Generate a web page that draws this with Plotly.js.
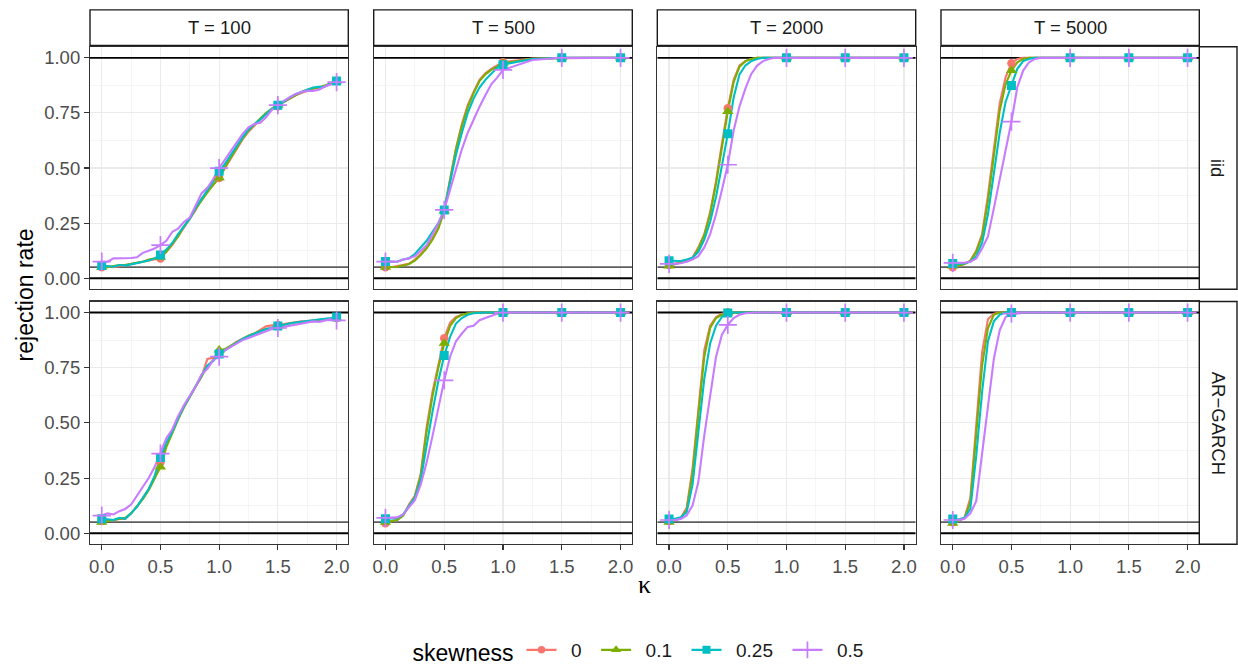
<!DOCTYPE html>
<html><head><meta charset="utf-8">
<script src="https://cdn.plot.ly/plotly-3.0.1.min.js"></script>
<style>html,body{margin:0;padding:0;background:#fff}#chart{width:1238px;height:671px}</style>
</head><body><div id="chart"></div>
<script>
// ---------------- data ----------------
const kappaFine = [0,0.05,0.1,0.15,0.2,0.25,0.3,0.35,0.4,0.45,0.5,0.55,0.6,0.65,0.7,0.75,0.8,0.85,0.9,0.95,1,1.05,1.1,1.15,1.2,1.25,1.3,1.35,1.4,1.45,1.5,1.55,1.6,1.65,1.7,1.75,1.8,1.85,1.9,1.95,2];
const kappaCoarse = [0,0.05,0.1,0.15,0.2,0.25,0.3,0.35,0.4,0.45,0.5,0.55,0.6,0.65,0.7,0.75,0.8,0.85,0.9,0.95,1,1.25,1.5,1.75,2];
const markerKappa = [0,0.5,1,1.5,2];
const skewLevels = ['0','0.1','0.25','0.5'];
const sampleSizes = ['T = 100','T = 500','T = 2000','T = 5000'];
const models = ['iid','AR\u2212GARCH'];
const xRange = [-0.1, 2.1];
const yRange = [-0.05, 1.05];
const xTickVals = [0,0.5,1,1.5,2];
const xTickText = ['0.0','0.5','1.0','1.5','2.0'];
const yTickVals = [0,0.25,0.5,0.75,1];
const yTickText = ['0.00','0.25','0.50','0.75','1.00'];
const boundLines = [0,1];
const nominalLevel = [0.05];

// iid, T = 100
const iid100_s0 = [0.05,0.055,0.05,0.055,0.06,0.065,0.07,0.075,0.08,0.085,0.09,0.12,0.15,0.19,0.23,0.27,0.31,0.36,0.39,0.42,0.455,0.50,0.545,0.59,0.63,0.665,0.695,0.72,0.745,0.765,0.78,0.80,0.815,0.83,0.84,0.85,0.86,0.865,0.87,0.88,0.895];
const iid100_s1 = [0.05,0.05,0.055,0.06,0.06,0.065,0.07,0.075,0.085,0.09,0.095,0.12,0.155,0.19,0.235,0.27,0.315,0.355,0.39,0.425,0.455,0.505,0.55,0.595,0.635,0.67,0.70,0.725,0.75,0.77,0.785,0.80,0.815,0.83,0.845,0.855,0.86,0.865,0.875,0.885,0.895];
const iid100_s2 = [0.058,0.055,0.052,0.06,0.058,0.063,0.068,0.075,0.08,0.09,0.105,0.13,0.16,0.20,0.235,0.27,0.32,0.36,0.40,0.44,0.485,0.52,0.56,0.60,0.64,0.675,0.70,0.72,0.745,0.77,0.785,0.80,0.82,0.835,0.845,0.855,0.865,0.868,0.87,0.885,0.895];
const iid100_s3 = [0.075,0.075,0.09,0.09,0.09,0.092,0.095,0.115,0.125,0.135,0.15,0.17,0.21,0.225,0.255,0.275,0.33,0.385,0.41,0.45,0.50,0.54,0.575,0.615,0.655,0.685,0.70,0.705,0.73,0.765,0.785,0.805,0.82,0.835,0.845,0.85,0.85,0.855,0.87,0.88,0.89];
// iid, T = 500
const iid500_s0 = [0.05,0.05,0.055,0.06,0.065,0.085,0.11,0.14,0.18,0.23,0.31,0.45,0.59,0.70,0.785,0.845,0.90,0.93,0.95,0.965,0.98,0.997,1,1,1];
const iid500_s1 = [0.05,0.05,0.052,0.058,0.065,0.08,0.105,0.135,0.175,0.225,0.305,0.445,0.585,0.69,0.775,0.84,0.895,0.925,0.945,0.96,0.975,0.996,1,1,1];
const iid500_s2 = [0.076,0.075,0.075,0.085,0.09,0.11,0.14,0.17,0.21,0.25,0.31,0.43,0.56,0.66,0.75,0.815,0.865,0.90,0.93,0.955,0.969,0.995,1,1,1];
const iid500_s3 = [0.075,0.075,0.075,0.085,0.09,0.10,0.125,0.15,0.20,0.25,0.31,0.40,0.495,0.585,0.66,0.72,0.778,0.83,0.88,0.91,0.945,0.99,1,1,1];
// iid, T = 2000
const iid2000_s0 = [0.06,0.065,0.072,0.08,0.095,0.14,0.20,0.30,0.44,0.61,0.771,0.90,0.965,0.985,0.995,1,1,1,1,1,1,1,1,1,1];
const iid2000_s1 = [0.055,0.062,0.07,0.078,0.092,0.135,0.195,0.29,0.43,0.595,0.756,0.89,0.96,0.985,0.995,1,1,1,1,1,1,1,1,1,1];
const iid2000_s2 = [0.079,0.078,0.078,0.085,0.093,0.12,0.175,0.255,0.37,0.51,0.655,0.82,0.925,0.965,0.985,0.995,1,1,1,1,1,1,1,1,1];
const iid2000_s3 = [0.065,0.065,0.068,0.075,0.085,0.10,0.14,0.20,0.29,0.40,0.515,0.67,0.78,0.86,0.927,0.965,0.985,0.995,1,1,1,1,1,1,1];
// iid, T = 5000
const iid5000_s0 = [0.05,0.058,0.065,0.08,0.125,0.20,0.376,0.585,0.793,0.912,0.975,0.995,1,1,1,1,1,1,1,1,1,1,1,1,1];
const iid5000_s1 = [0.055,0.058,0.065,0.078,0.12,0.19,0.35,0.55,0.76,0.88,0.942,0.98,0.995,1,1,1,1,1,1,1,1,1,1,1,1];
const iid5000_s2 = [0.067,0.065,0.068,0.075,0.10,0.16,0.29,0.47,0.66,0.80,0.875,0.95,0.985,0.995,1,1,1,1,1,1,1,1,1,1,1];
const iid5000_s3 = [0.07,0.07,0.07,0.075,0.09,0.135,0.19,0.317,0.45,0.585,0.711,0.867,0.942,0.98,0.995,1,1,1,1,1,1,1,1,1,1];
// AR-GARCH, T = 100
const garch100_s0 = [0.055,0.06,0.06,0.065,0.065,0.09,0.12,0.16,0.20,0.25,0.32,0.40,0.455,0.52,0.575,0.62,0.665,0.71,0.79,0.795,0.815,0.83,0.848,0.868,0.882,0.895,0.905,0.92,0.938,0.942,0.942,0.948,0.952,0.958,0.96,0.962,0.965,0.968,0.97,0.97,0.975];
const garch100_s1 = [0.05,0.055,0.06,0.065,0.07,0.09,0.12,0.155,0.195,0.245,0.30,0.39,0.455,0.515,0.57,0.62,0.665,0.71,0.755,0.785,0.83,0.835,0.85,0.865,0.88,0.895,0.905,0.915,0.925,0.93,0.937,0.945,0.95,0.955,0.955,0.96,0.96,0.965,0.968,0.97,0.975];
const garch100_s2 = [0.066,0.063,0.06,0.07,0.065,0.09,0.12,0.16,0.20,0.26,0.343,0.41,0.46,0.52,0.575,0.62,0.67,0.715,0.76,0.78,0.812,0.83,0.845,0.865,0.88,0.893,0.905,0.915,0.925,0.932,0.939,0.945,0.95,0.955,0.958,0.962,0.965,0.968,0.97,0.975,0.98];
const garch100_s3 = [0.08,0.09,0.085,0.10,0.11,0.13,0.17,0.21,0.25,0.30,0.361,0.43,0.47,0.53,0.58,0.62,0.665,0.72,0.745,0.785,0.80,0.83,0.845,0.86,0.875,0.885,0.895,0.905,0.915,0.925,0.93,0.935,0.94,0.945,0.95,0.955,0.96,0.958,0.965,0.97,0.965];
// AR-GARCH, T = 500
const garch500_s0 = [0.045,0.055,0.06,0.08,0.13,0.17,0.27,0.48,0.64,0.76,0.884,0.955,0.98,0.99,0.995,1,1,1,1,1,1,1,1,1,1];
const garch500_s1 = [0.05,0.055,0.06,0.08,0.125,0.165,0.26,0.46,0.62,0.75,0.861,0.94,0.975,0.99,0.997,1,1,1,1,1,1,1,1,1,1];
const garch500_s2 = [0.066,0.066,0.068,0.085,0.12,0.16,0.24,0.40,0.55,0.69,0.805,0.89,0.95,0.975,0.99,0.997,1,1,1,1,1,1,1,1,1];
const garch500_s3 = [0.07,0.07,0.072,0.085,0.12,0.15,0.22,0.32,0.44,0.57,0.693,0.80,0.87,0.905,0.935,0.94,0.965,0.975,0.985,0.995,1,1,1,1,1];
// AR-GARCH, T = 2000
const garch2000_s0 = [0.055,0.06,0.07,0.115,0.294,0.578,0.83,0.94,0.98,0.995,1,1,1,1,1,1,1,1,1,1,1,1,1,1,1];
const garch2000_s1 = [0.05,0.058,0.068,0.105,0.27,0.54,0.80,0.93,0.975,0.99,0.998,1,1,1,1,1,1,1,1,1,1,1,1,1,1];
const garch2000_s2 = [0.065,0.065,0.072,0.095,0.22,0.47,0.70,0.86,0.94,0.98,0.998,1,1,1,1,1,1,1,1,1,1,1,1,1,1];
const garch2000_s3 = [0.06,0.06,0.065,0.08,0.125,0.234,0.443,0.63,0.80,0.90,0.944,0.975,0.99,0.997,1,1,1,1,1,1,1,1,1,1,1];
// AR-GARCH, T = 5000
const garch5000_s0 = [0.05,0.06,0.07,0.16,0.50,0.82,0.97,0.995,1,1,1,1,1,1,1,1,1,1,1,1,1,1,1,1,1];
const garch5000_s1 = [0.045,0.055,0.068,0.14,0.45,0.76,0.93,0.99,1,1,1,1,1,1,1,1,1,1,1,1,1,1,1,1,1];
const garch5000_s2 = [0.065,0.062,0.07,0.11,0.35,0.64,0.87,0.96,0.99,1,1,1,1,1,1,1,1,1,1,1,1,1,1,1,1];
const garch5000_s3 = [0.06,0.06,0.065,0.09,0.145,0.354,0.578,0.79,0.92,0.98,0.995,1,1,1,1,1,1,1,1,1,1,1,1,1,1];

// ---------------- assembly ----------------
const panels = [
  {x: kappaFine,   ys: [iid100_s0, iid100_s1, iid100_s2, iid100_s3]},
  {x: kappaCoarse, ys: [iid500_s0, iid500_s1, iid500_s2, iid500_s3]},
  {x: kappaCoarse, ys: [iid2000_s0, iid2000_s1, iid2000_s2, iid2000_s3]},
  {x: kappaCoarse, ys: [iid5000_s0, iid5000_s1, iid5000_s2, iid5000_s3]},
  {x: kappaFine,   ys: [garch100_s0, garch100_s1, garch100_s2, garch100_s3]},
  {x: kappaCoarse, ys: [garch500_s0, garch500_s1, garch500_s2, garch500_s3]},
  {x: kappaCoarse, ys: [garch2000_s0, garch2000_s1, garch2000_s2, garch2000_s3]},
  {x: kappaCoarse, ys: [garch5000_s0, garch5000_s1, garch5000_s2, garch5000_s3]}
];

const W = 1238, H = 671;
const colPx = [[90,348.3],[373.7,632.3],[657.3,915.7],[941,1199.3]];
const rowPx = [[47.3,292.3],[304.7,550]];
const stripTop = [10,46];
const stripRight = [1199.3,1237];

const colors = ['#F8766D','#7CAE00','#00BFC4','#C77CFF'];
const symbols = ['circle','triangle-up','square','cross-thin-open'];
const msizes = [8.5,10,9,13];
const FONT = 'Liberation Sans, Arial, Helvetica, sans-serif';

const refTraces = [], lineTraces = [], markerTraces = [], legendTraces = [];
const layout = {
  width: W, height: H,
  margin: {l:0, r:0, t:0, b:0},
  paper_bgcolor: '#fff', plot_bgcolor: '#fff',
  font: {family: FONT, color: '#1A1A1A'},
  showlegend: true,
  legend: {
    orientation: 'h', x: 0.5206, xanchor: 'center', y: 1 - 658/H, yanchor: 'middle',
    font: {size: 19, color: '#1A1A1A', family: FONT},
    title: {text: 'skewness', side: 'left', font: {size: 23, color: '#000', family: FONT}},
    itemwidth: 30, tracegroupgap: 0
  },
  shapes: [], annotations: []
};

panels.forEach((p, i) => {
  const row = Math.floor(i / 4), col = i % 4;
  const xn = i === 0 ? 'x' : 'x' + (i + 1);
  const yn = i === 0 ? 'y' : 'y' + (i + 1);
  const xk = i === 0 ? 'xaxis' : 'xaxis' + (i + 1);
  const yk = i === 0 ? 'yaxis' : 'yaxis' + (i + 1);
  layout[xk] = {
    domain: [colPx[col][0]/W, colPx[col][1]/W], anchor: yn,
    range: xRange, fixedrange: true,
    tickmode: 'array', tickvals: xTickVals, ticktext: xTickText,
    showticklabels: row === 1, ticks: row === 1 ? 'outside' : '',
    ticklen: 5, tickwidth: 1.1, tickcolor: '#333333',
    tickfont: {size: 18.5, color: '#4D4D4D', family: FONT},
    showgrid: true, gridcolor: '#EBEBEB', gridwidth: 1.1,
    minor: {tickvals: [0.25,0.75,1.25,1.75], showgrid: true, gridcolor: '#EFEFEF', gridwidth: 0.6},
    zeroline: false, showline: true, mirror: true, linecolor: '#333333', linewidth: 1.1
  };
  layout[yk] = {
    domain: [1 - rowPx[row][1]/H, 1 - rowPx[row][0]/H], anchor: xn,
    range: yRange, fixedrange: true,
    tickmode: 'array', tickvals: yTickVals, ticktext: yTickText,
    showticklabels: col === 0, ticks: col === 0 ? 'outside' : '',
    ticklen: 5, tickwidth: 1.1, tickcolor: '#333333',
    tickfont: {size: 18.5, color: '#4D4D4D', family: FONT},
    showgrid: true, gridcolor: '#EBEBEB', gridwidth: 1.1,
    minor: {tickvals: [0.125,0.375,0.625,0.875], showgrid: true, gridcolor: '#EFEFEF', gridwidth: 0.6},
    zeroline: false, showline: true, mirror: true, linecolor: '#333333', linewidth: 1.1
  };
  // reference lines as traces (drawn beneath curves)
  boundLines.forEach(v => refTraces.push({type:'scatter', mode:'lines', x: xRange, y: [v, v], xaxis: xn, yaxis: yn,
    line:{color:'#000', width:1.9}, showlegend:false, hoverinfo:'skip'}));
  nominalLevel.forEach(v => refTraces.push({type:'scatter', mode:'lines', x: xRange, y: [v, v], xaxis: xn, yaxis: yn,
    line:{color:'#5E5E5E', width:1.8}, showlegend:false, hoverinfo:'skip'}));

  p.ys.forEach((ys, s) => {
    lineTraces.push({
      type: 'scatter', mode: 'lines', x: p.x, y: ys, xaxis: xn, yaxis: yn,
      line: {color: colors[s], width: 2.1}, showlegend: false, hoverinfo: 'skip'
    });
    const my = markerKappa.map(k => ys[p.x.findIndex(v => Math.abs(v - k) < 1e-9)]);
    markerTraces.push({
      type: 'scatter', mode: 'markers', x: markerKappa, y: my, xaxis: xn, yaxis: yn,
      marker: {color: colors[s], symbol: symbols[s], size: msizes[s],
               line: {color: colors[s], width: s === 3 ? 1.7 : 0}},
      showlegend: false, hoverinfo: 'skip'
    });
  });
});

skewLevels.forEach((lv, s) => {
  legendTraces.push({
    type: 'scatter', mode: 'lines+markers', x: [null], y: [null], xaxis: 'x', yaxis: 'y',
    name: '\u2002' + lv + '\u2002', line: {color: colors[s], width: 2.1},
    marker: {color: colors[s], symbol: symbols[s], size: msizes[s] - 1,
             line: {color: colors[s], width: s === 3 ? 1.7 : 0}},
    showlegend: true, hoverinfo: 'skip'
  });
});

// strips
sampleSizes.forEach((lab, c) => {
  layout.shapes.push({type:'rect', xref:'paper', yref:'paper', x0: colPx[c][0]/W, x1: colPx[c][1]/W,
    y0: 1 - stripTop[1]/H, y1: 1 - stripTop[0]/H, line:{color:'#1A1A1A', width:1.4}, fillcolor:'rgba(255,255,255,0)'});
  layout.annotations.push({xref:'paper', yref:'paper', x:(colPx[c][0]+colPx[c][1])/2/W, y: 1 - (stripTop[0]+stripTop[1])/2/H,
    text: lab, showarrow:false, xanchor:'center', yanchor:'middle', font:{size:18.5, color:'#1A1A1A', family: FONT}});
});
models.forEach((lab, r) => {
  layout.shapes.push({type:'rect', xref:'paper', yref:'paper', x0: stripRight[0]/W, x1: stripRight[1]/W,
    y0: 1 - rowPx[r][1]/H, y1: 1 - rowPx[r][0]/H, line:{color:'#1A1A1A', width:1.4}, fillcolor:'rgba(255,255,255,0)'});
  layout.annotations.push({xref:'paper', yref:'paper', x:(stripRight[0]+stripRight[1])/2/W, y: 1 - (rowPx[r][0]+rowPx[r][1])/2/H,
    text: lab, textangle: 90, showarrow:false, xanchor:'center', yanchor:'middle', font:{size:18.5, color:'#1A1A1A', family: FONT}});
});
// axis titles
layout.annotations.push({xref:'paper', yref:'paper', x: 25/W, y: 1 - 298.5/H, text:'rejection rate', textangle:-90,
  showarrow:false, xanchor:'center', yanchor:'middle', font:{size:23, color:'#000', family: FONT}});
layout.annotations.push({xref:'paper', yref:'paper', x: 644.7/W, y: 1 - 591/H, text:'\u03ba',
  showarrow:false, xanchor:'center', yanchor:'middle', font:{size:26, color:'#000', family:'Liberation Serif, DejaVu Serif, serif'}});

Plotly.newPlot('chart', refTraces.concat(lineTraces, markerTraces, legendTraces), layout, {staticPlot: true, displayModeBar: false});
</script>
</body></html>
